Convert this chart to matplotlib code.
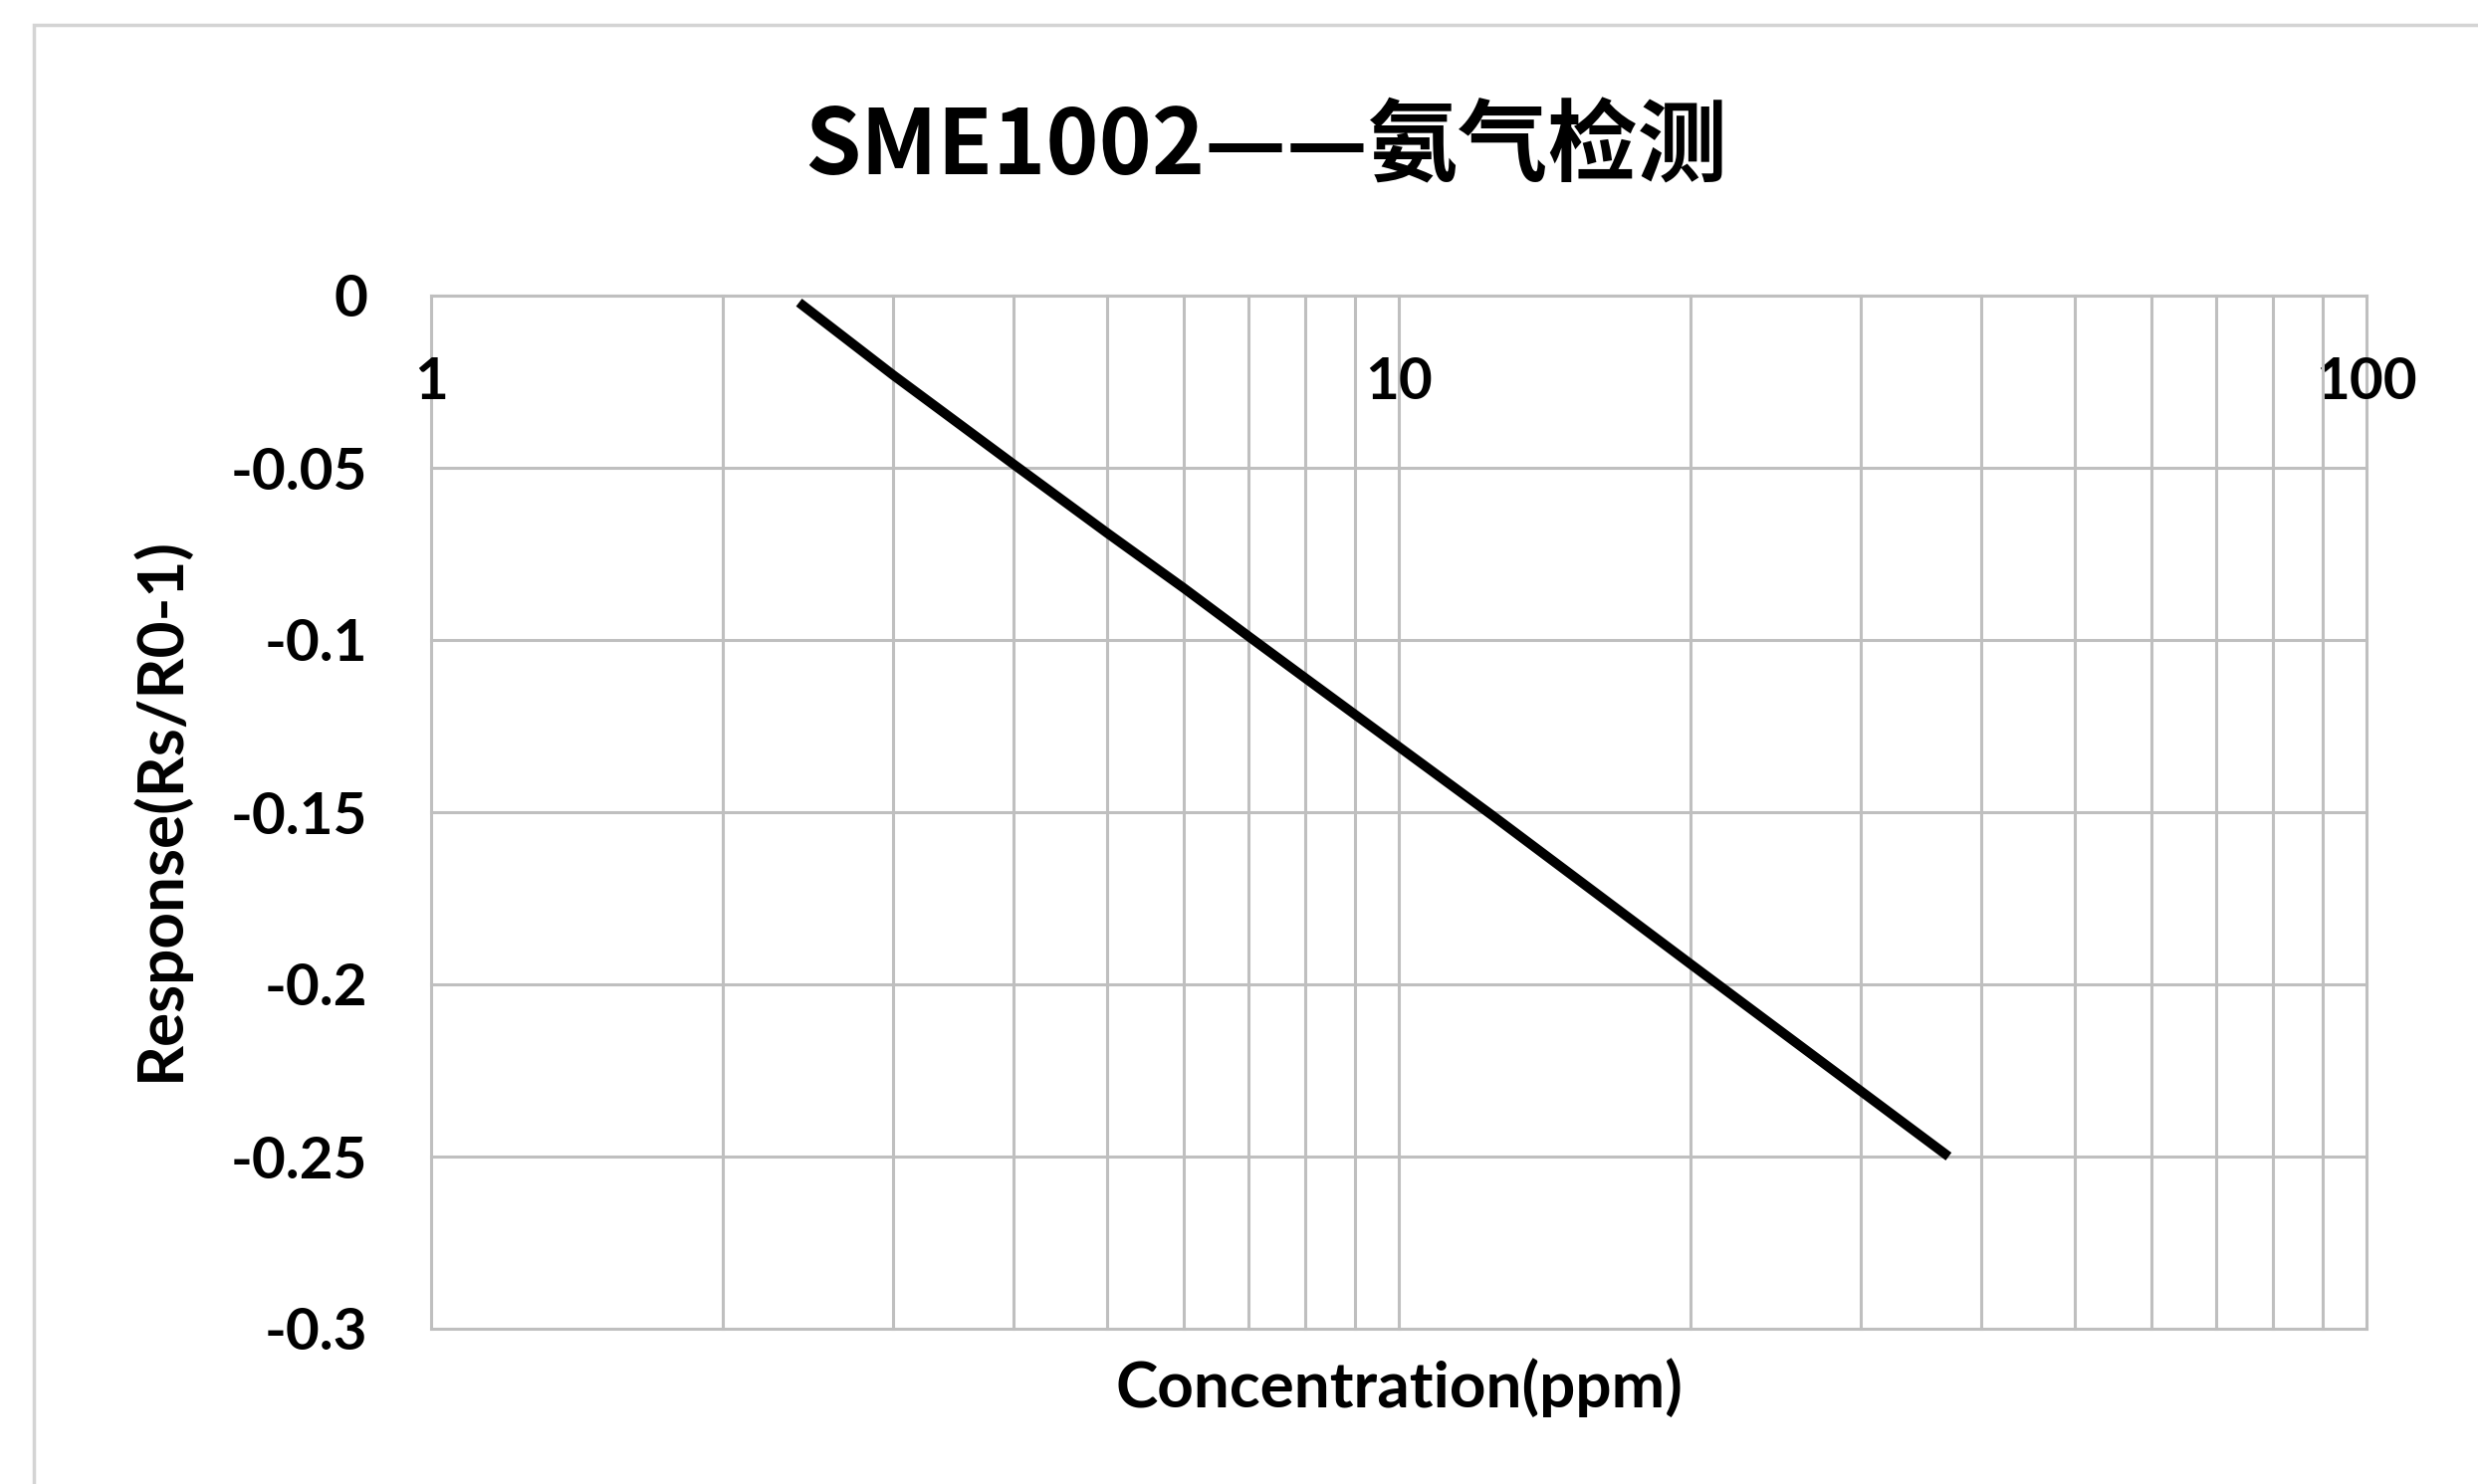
import matplotlib
matplotlib.use('Agg')
import matplotlib.pyplot as plt
from matplotlib.patches import Rectangle
from matplotlib.ticker import LogLocator, FixedLocator, NullFormatter, FixedFormatter

# ---- data ----
title = "SME1002——氨气检测"
x_label = "Concentration(ppm)"
y_label = "Response(Rs/R0-1)"
concentration = [2.4, 3, 4, 5, 6, 7, 8, 10, 12.5, 20, 37]
response = [-0.002, -0.023, -0.049, -0.069, -0.085, -0.099, -0.111, -0.131, -0.151, -0.194, -0.250]
x_ticks = [1, 10, 100]
x_tick_labels = ["1", "10", "100"]
y_ticks = [0, -0.05, -0.1, -0.15, -0.2, -0.25, -0.3]
y_tick_labels = ["0", "-0.05", "-0.1", "-0.15", "-0.2", "-0.25", "-0.3"]

plt.rcParams['font.family'] = ['Lato', 'Noto Sans CJK SC', 'DejaVu Sans']
plt.rcParams['font.weight'] = 'bold'

W, H = 2489, 1491
DPI = 100
fig = plt.figure(figsize=(W / DPI, H / DPI), dpi=DPI)
fig.patch.set_facecolor('white')


def fx(px):
    return px / W


def fy(py):
    return 1 - py / H


ax = fig.add_axes([fx(433), fy(1335), fx(2377) - fx(433), fy(297) - fy(1335)])
ax.set_xscale('log')
ax.set_xlim(1, 100)
ax.set_ylim(-0.3, 0)

grid_color = '#BFBFBF'
ax.xaxis.set_major_locator(FixedLocator(x_ticks))
ax.xaxis.set_major_formatter(FixedFormatter(x_tick_labels))
ax.xaxis.set_minor_locator(LogLocator(base=10, subs=range(2, 10)))
ax.xaxis.set_minor_formatter(NullFormatter())
ax.yaxis.set_major_locator(FixedLocator(y_ticks))
ax.yaxis.set_major_formatter(FixedFormatter(y_tick_labels))
ax.grid(True, which='both', axis='both', color=grid_color, lw=2.2, clip_on=False)
ax.set_axisbelow(True)

for s in ['top', 'right', 'left']:
    ax.spines[s].set_visible(False)
ax.spines['bottom'].set_position(('data', 0))
ax.spines['bottom'].set_color(grid_color)
ax.spines['bottom'].set_linewidth(2.2)

ax.tick_params(axis='both', which='both', length=0, labelsize=42, labelcolor='black')
ax.tick_params(axis='x', pad=44)
ax.tick_params(axis='y', pad=46)
for lab in ax.get_xticklabels() + ax.get_yticklabels():
    lab.set_fontweight('bold')

ax.plot(concentration, response, color='black', lw=7, solid_capstyle='butt',
        solid_joinstyle='round', zorder=3)

fig.text(fx(1272), fy(175), title, ha='center', va='baseline', fontsize=65,
         fontweight='bold', family=['Noto Sans CJK SC', 'DejaVu Sans'])
fig.text(fx(160), fy(812), y_label, rotation=90, ha='center', va='center', fontsize=46, fontweight='bold')
fig.text(fx(1405), fy(1414), x_label, ha='center', va='baseline', fontsize=46, fontweight='bold')

fig.add_artist(Rectangle((fx(34), -0.1), 1.2, fy(25) + 0.1, transform=fig.transFigure,
                         fill=False, ec='#D4D4D4', lw=2.5))

fig.savefig('out.png', dpi=DPI)
